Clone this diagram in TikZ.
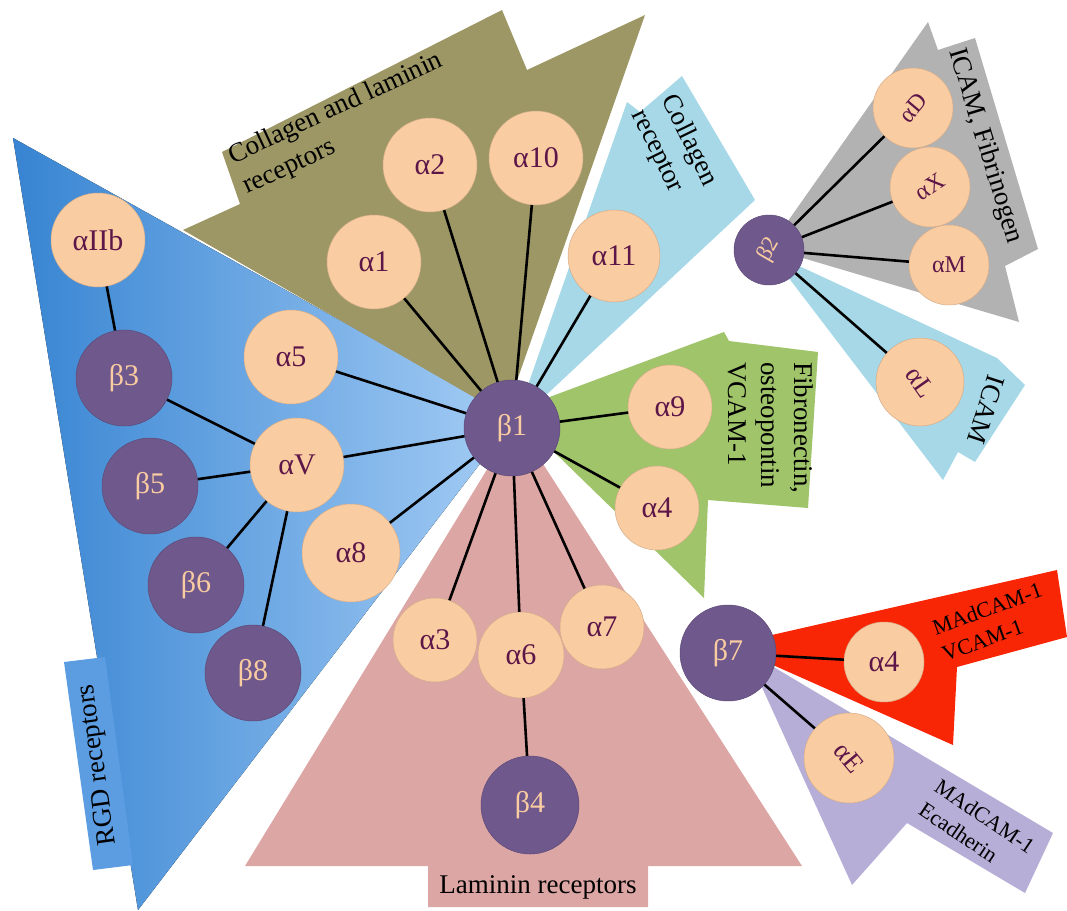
\documentclass[tikz,border=0pt]{standalone}
\usepackage{fontspec}
\setmainfont{Liberation Serif}
\usepackage{tikz}
\definecolor{peach}{RGB}{250,204,162}
\definecolor{grape}{RGB}{110,88,140}
\definecolor{alphaink}{RGB}{92,22,72}
\definecolor{rgddark}{RGB}{55,132,210}
\definecolor{rgdlight}{RGB}{165,205,245}
\definecolor{rgdtab}{RGB}{92,157,226}
\definecolor{olivewedge}{RGB}{157,151,101}
\definecolor{cyanwedge}{RGB}{166,216,231}
\definecolor{greenwedge}{RGB}{159,196,106}
\definecolor{pinkwedge}{RGB}{220,166,164}
\definecolor{greywedge}{RGB}{178,178,178}
\definecolor{redwedge}{RGB}{248,38,5}
\definecolor{lavwedge}{RGB}{182,174,214}

\begin{document}
\begin{tikzpicture}[x=1pt,y=-1pt,
anode/.style={circle,fill=peach,draw=peach!85!black,line width=0.5pt,text=alphaink,minimum size=94pt,inner sep=0pt,font=\fontsize{30}{32}\selectfont},
bnode/.style={circle,fill=grape,draw=grape!85!black,line width=0.5pt,text=peach,minimum size=96pt,inner sep=0pt,font=\fontsize{30}{32}\selectfont},
grouplabel/.style={align=left,inner sep=0pt,font=\fontsize{27}{33}\selectfont},
smalllabel/.style={align=left,inner sep=0pt,font=\fontsize{22}{28}\selectfont},
link/.style={line width=2.6pt}]
\useasboundingbox (0,0) rectangle (1067,910);
\fill[left color=rgddark,right color=rgdlight] (13,138) -- (515,418) -- (138,910) -- cycle;
\fill[rgdtab] (64,662) -- (105,657) -- (133,865) -- (93,870) -- cycle;
\fill[olivewedge] (505,415) -- (183,230) -- (240,204) -- (222,152) -- (502,10) -- (527,70) -- (645,15) -- cycle;
\fill[cyanwedge] (514,425) -- (627,102) -- (640,112) -- (682,76) -- (755,200) -- cycle;
\fill[greenwedge] (512,411) -- (724,332) -- (729,341) -- (818,352) -- (808,508) -- (708,500) -- (704,598) -- cycle;
\fill[pinkwedge] (516,422) -- (245,866) -- (428,866) -- (428,907) -- (648,907) -- (648,866) -- (802,866) -- cycle;
\fill[greywedge] (769,248) -- (928,22) -- (938,50) -- (975,38) -- (1038,249) -- (1005,266) -- (1019,322) -- cycle;
\fill[cyanwedge] (769,252) -- (997,358) -- (1025,385) -- (975,462) -- (958,452) -- (943,480) -- cycle;
\fill[lavwedge] (745,650) -- (1053,833) -- (1025,893) -- (907,823) -- (852,885) -- cycle;
\fill[redwedge] (728,645) -- (1057,570) -- (1067,637) -- (957,667) -- (953,745) -- cycle;

\node[grouplabel,rotate=98] (rgd) at (98,765) {RGD receptors};
\node[grouplabel,rotate=25] (collam) at (343,124) {Collagen and laminin\\receptors};
\node[grouplabel,rotate=-64] (col) at (674,148) {Collagen\\receptor};
\node[grouplabel,rotate=-90] (fib) at (771,428) {Fibronectin,\\osteopontin\\VCAM-1};
\node[grouplabel] (lam) at (538,887) {Laminin receptors};
\node[grouplabel,rotate=-73] (icamfib) at (985,146) {ICAM, Fibrinogen};
\node[grouplabel,rotate=-108] (icam) at (986,410) {ICAM};
\node[smalllabel,rotate=20] (madv) at (992,622) {MAdCAM-1\\VCAM-1};
\node[smalllabel,rotate=-34] (made) at (977,828) {MAdCAM-1\\Ecadherin};

\node[bnode] (b1) at (512,428) {β1};
\node[anode] (a1) at (374,262) {α1};
\node[anode] (a2) at (430,165) {α2};
\node[anode] (a10) at (536,158) {α10};
\node[anode,minimum size=92pt] (a11) at (614,256) {α11};
\node[anode] (aIIb) at (98,240) {αIIb};
\node[bnode] (b3) at (124,378) {β3};
\node[anode] (a5) at (291,357) {α5};
\node[anode] (aV) at (297,465) {αV};
\node[bnode] (b5) at (150,486) {β5};
\node[bnode] (b6) at (196,585) {β6};
\node[bnode] (b8) at (253,673) {β8};
\node[anode,minimum size=98pt] (a8) at (351,553) {α8};
\node[anode,minimum size=84pt] (a9) at (670,407) {α9};
\node[anode,minimum size=84pt] (a4) at (657,508) {α4};
\node[anode,minimum size=84pt] (a3) at (435,640) {α3};
\node[anode,minimum size=86pt] (a6) at (521,655) {α6};
\node[anode,minimum size=84pt] (a7) at (602,627) {α7};
\node[bnode,minimum size=98pt] (b4) at (530,805) {β4};
\node[bnode] (b7) at (728,653) {β7};
\node[anode,minimum size=80pt] (a4b) at (884,662) {α4};
\node[anode,minimum size=90pt,rotate=-50,font=\fontsize{27}{29}\selectfont] (aE) at (849,758) {αE};
\node[bnode,minimum size=70pt,rotate=60,font=\fontsize{23}{25}\selectfont] (b2) at (769,250) {β2};
\node[anode,minimum size=80pt,rotate=50,font=\fontsize{24}{26}\selectfont] (aD) at (913,108) {αD};
\node[anode,minimum size=80pt,rotate=34,font=\fontsize{24}{26}\selectfont] (aX) at (930,187) {αX};
\node[anode,minimum size=80pt,font=\fontsize{24}{26}\selectfont] (aM) at (949,265) {αM};
\node[anode,minimum size=88pt,rotate=-55,font=\fontsize{27}{29}\selectfont] (aL) at (920,382) {αL};

\draw[link] (b1) -- (a1);
\draw[link] (b1) -- (a2);
\draw[link] (b1) -- (a10);
\draw[link] (b1) -- (a11);
\draw[link] (b1) -- (a5);
\draw[link] (b1) -- (aV);
\draw[link] (b1) -- (a8);
\draw[link] (b1) -- (a9);
\draw[link] (b1) -- (a4);
\draw[link] (b1) -- (a3);
\draw[link] (b1) -- (a6);
\draw[link] (b1) -- (a7);
\draw[link] (aIIb) -- (b3);
\draw[link] (aV) -- (b3);
\draw[link] (aV) -- (b5);
\draw[link] (aV) -- (b6);
\draw[link] (aV) -- (b8);
\draw[link] (a6) -- (b4);
\draw[link] (b2) -- (aD);
\draw[link] (b2) -- (aX);
\draw[link] (b2) -- (aM);
\draw[link] (b2) -- (aL);
\draw[link] (b7) -- (a4b);
\draw[link] (b7) -- (aE);
\end{tikzpicture}
\end{document}
